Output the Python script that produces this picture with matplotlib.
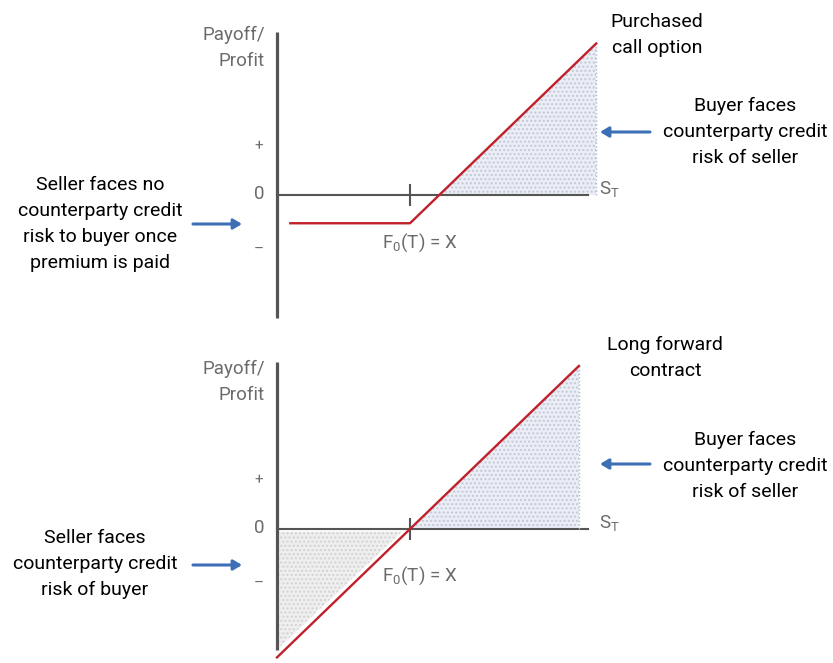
import numpy as np
import matplotlib
matplotlib.use("Agg")
import matplotlib.pyplot as plt

plt.rcParams['font.family'] = ['Roboto', 'DejaVu Sans']
plt.rcParams['mathtext.fontset'] = 'custom'
plt.rcParams['mathtext.rm'] = 'Roboto'
plt.rcParams['mathtext.it'] = 'Roboto'

W, H = 833, 663

# payoff data (strike = 100)
strike = 100
premium = 22
call_s = np.array([10, strike, 240])
call_payoff = np.array([-premium, -premium, 240 - strike - premium])
fwd_s = np.array([0, strike, 227])
fwd_payoff = np.array([0 - strike, 0, 227 - strike])

gray_txt = '#6b6b6b'
axis_col = '#555555'
red = '#c0202a'
blue = '#3d6fb6'


def fx(x, y):
    # pixel (top-left origin) -> figure fraction
    return x / W, 1 - y / H


fig = plt.figure(figsize=(W / 100, H / 100), dpi=100)

# x: 1 unit = 1.33 px, y: 1 unit = 1.284 px, origin at vertical axis
xs, ys = 1.33, 1.284
panels = [
    dict(top=0, bot=331, y0=195, ytop=32, ybot=318, xend=588),
    dict(top=331, bot=663, y0=529, ytop=362, ybot=650, xend=588),
]
axes = []
for p in panels:
    ax = fig.add_axes([0, 1 - p['bot'] / H, 1, (p['bot'] - p['top']) / H])
    ax.set_xlim(-277 / xs, (W - 277) / xs)
    ax.set_ylim(-(p['bot'] - p['y0']) / ys, (p['y0'] - p['top']) / ys)
    ax.axis('off')
    # vertical axis
    ax.plot([0, 0], [-(p['ybot'] - p['y0']) / ys, (p['y0'] - p['ytop']) / ys],
            color=axis_col, lw=2.3, solid_capstyle='butt')
    # horizontal axis
    ax.plot([0, (p['xend'] - 277) / xs], [0, 0], color=axis_col, lw=1.5)
    # strike tick
    ax.plot([strike, strike], [-8, 8], color=axis_col, lw=1.5)
    axes.append(ax)

# top panel: call option
ax = axes[0]
be = strike + premium
xx = np.array([be, call_s[-1], call_s[-1]])
yy = np.array([0, call_payoff[-1], 0])
ax.fill(xx, yy, facecolor='#eceef5', hatch='....', edgecolor='#c3c8da', lw=0)
ax.plot([call_s[-1], call_s[-1]], [0, call_payoff[-1]], color='#a9b8d8', lw=1, ls=':')
ax.plot(call_s, call_payoff, color=red, lw=1.7)

# bottom panel: forward
ax = axes[1]
ax.fill([strike, fwd_s[-1], fwd_s[-1]], [0, fwd_payoff[-1], 0],
        facecolor='#eceef5', hatch='....', edgecolor='#c3c8da', lw=0)
ax.plot([fwd_s[-1], fwd_s[-1]], [0, fwd_payoff[-1]], color='#a9b8d8', lw=1, ls=':')
ax.fill([2, strike - 6, 2], [-2, -2, fwd_payoff[0] + 8],
        facecolor='#efefef', hatch='....', edgecolor='#d2d2d2', lw=0)
ax.plot(fwd_s, fwd_payoff, color=red, lw=1.7, clip_on=False)

fs = 14

# gray labels
for y0 in [195, 529]:
    d = y0 - 195
    fig.text(*fx(265, 48 + d), 'Payoff/\nProfit', ha='right', va='center',
             color=gray_txt, fontsize=13.5, linespacing=1.55)
    fig.text(*fx(259, 146 + d), '+', ha='center', va='center', color=gray_txt, fontsize=11)
    fig.text(*fx(259, 194 + d), '0', ha='center', va='center', color=gray_txt, fontsize=13.5)
    fig.text(*fx(259, 250 + d), '\u2013', ha='center', va='center', color=gray_txt, fontsize=11)
    fig.text(*fx(599, 189 + d), r'S$_\mathrm{T}$', ha='left', va='center',
             color=gray_txt, fontsize=13.5)
fig.text(*fx(420, 243), r'F$_\mathrm{0}$(T) = X', ha='center', va='center',
         color=gray_txt, fontsize=13.5)
fig.text(*fx(420, 576), r'F$_\mathrm{0}$(T) = X', ha='center', va='center',
         color=gray_txt, fontsize=13.5)

# black annotations
notes = [
    (657, 35, 'Purchased\ncall option'),
    (745, 132, 'Buyer faces\ncounterparty credit\nrisk of seller'),
    (100, 224, 'Seller faces no\ncounterparty credit\nrisk to buyer once\npremium is paid'),
    (665, 358, 'Long forward\ncontract'),
    (745, 466, 'Buyer faces\ncounterparty credit\nrisk of seller'),
    (95, 564, 'Seller faces\ncounterparty credit\nrisk of buyer'),
]
for x, y, t in notes:
    fig.text(*fx(x, y), t, ha='center', va='center', color='black',
             fontsize=fs, linespacing=1.55)

# blue arrows
arrows = [((193, 224), (242, 224)), ((650, 132), (600, 132)),
          ((193, 565), (242, 565)), ((650, 464), (600, 464))]
for (x1, y1), (x2, y2) in arrows:
    fig.add_artist(matplotlib.patches.FancyArrowPatch(
        fx(x1, y1), fx(x2, y2), transform=fig.transFigure,
        arrowstyle='-|>,head_length=5,head_width=3', color=blue, lw=2.2,
        shrinkA=0, shrinkB=0))

fig.savefig('out.png', dpi=100)
